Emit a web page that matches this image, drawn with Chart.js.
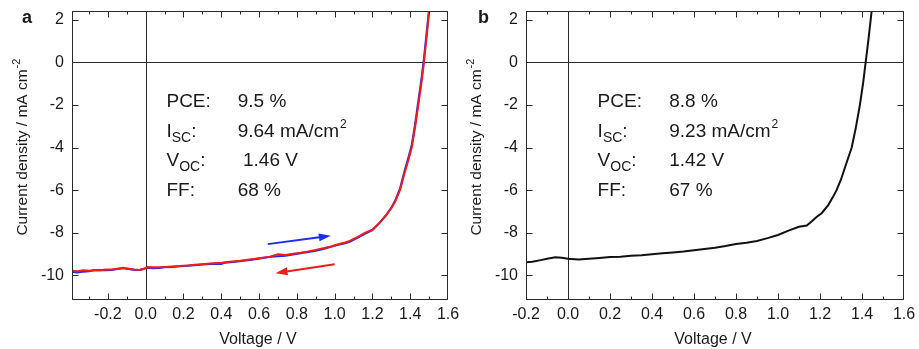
<!DOCTYPE html>
<html>
<head>
<meta charset="utf-8">
<script src="https://cdn.jsdelivr.net/npm/chart.js@4.4.1/dist/chart.umd.min.js"></script>
<style>
  html, body { margin: 0; padding: 0; background: #fff; }
  #wrap { position: relative; width: 919px; height: 349px; }
  canvas { position: absolute; top: 0; }
</style>
</head>
<body>
<div id="wrap">
  <canvas id="chartA" width="460" height="349" style="left:0"></canvas>
  <canvas id="chartB" width="459" height="349" style="left:460px"></canvas>
</div>
<script>
// panel a: forward (blue) and reverse (red) scans
const voltageA = [-0.39, -0.36, -0.33, -0.3, -0.27, -0.24, -0.21, -0.18, -0.15, -0.12, -0.09, -0.06, -0.03, -0.01,
  0.01, 0.04, 0.07, 0.1, 0.14, 0.18, 0.22, 0.26, 0.3, 0.34, 0.38,
  0.4, 0.42, 0.46, 0.5, 0.54, 0.58, 0.62, 0.66, 0.7, 0.74, 0.78, 0.82, 0.86, 0.9, 0.94, 0.98,
  1.02, 1.05, 1.08, 1.12, 1.16, 1.2, 1.24, 1.27, 1.3, 1.32, 1.346, 1.37, 1.39, 1.408, 1.425, 1.443, 1.46, 1.473, 1.487, 1.501, 1.515];
const forwardA = [-9.84, -9.86, -9.82, -9.80, -9.76, -9.74, -9.76, -9.74, -9.70, -9.66, -9.70, -9.74, -9.73, -9.68,
  -9.64, -9.66, -9.65, -9.62, -9.60, -9.57, -9.55, -9.52, -9.49, -9.46, -9.45,
  -9.46, -9.40, -9.37, -9.33, -9.29, -9.24, -9.18, -9.12, -9.10, -9.08, -9.02, -8.96, -8.90, -8.84, -8.76, -8.66,
  -8.56, -8.50, -8.42, -8.24, -8.05, -7.88, -7.52, -7.2, -6.82, -6.5, -5.92, -5.1, -4.48, -3.88, -2.95, -1.82, -0.75, 0.2, 1.4, 2.6, 3.8];
const reverseA = [-9.78, -9.80, -9.76, -9.78, -9.74, -9.76, -9.72, -9.72, -9.68, -9.64, -9.68, -9.72, -9.74, -9.70,
  -9.60, -9.62, -9.62, -9.60, -9.58, -9.56, -9.53, -9.50, -9.47, -9.44, -9.42,
  -9.41, -9.38, -9.34, -9.31, -9.26, -9.22, -9.17, -9.12, -9.00, -9.04, -8.98, -8.93, -8.87, -8.80, -8.72, -8.64,
  -8.54, -8.47, -8.38, -8.2, -8.0, -7.85, -7.5, -7.2, -6.85, -6.55, -6.0, -5.2, -4.6, -4.0, -3.1, -2.0, -0.95, 0.0, 1.2, 2.4, 3.6];
const arrowFwdA = [[0.646, -8.53], [0.98, -8.14]];
const arrowRevA = [[1.0, -9.47], [0.687, -9.89]];
const statsA = [
  ["PCE", "", ":", "9.5 %", ""],
  ["I", "SC", ":", "9.64 mA/cm", "2"],
  ["V", "OC", ":", " 1.46 V", ""],
  ["FF", "", ":", "68 %", ""]
];

// panel b
const voltageB = [-0.2, -0.17, -0.13, -0.1, -0.06, -0.03,
  0.0, 0.05, 0.1, 0.15, 0.2, 0.25, 0.3, 0.35, 0.4, 0.45, 0.5, 0.55, 0.6, 0.65, 0.7, 0.75, 0.8, 0.85, 0.9, 0.95, 1.0, 1.05, 1.1,
  1.137, 1.16, 1.185, 1.208, 1.24, 1.26, 1.279, 1.3, 1.32, 1.351, 1.37, 1.39, 1.405, 1.4175, 1.43, 1.446, 1.455];
const currentB = [-9.38, -9.36, -9.28, -9.22, -9.15, -9.17,
  -9.22, -9.25, -9.22, -9.18, -9.13, -9.12, -9.07, -9.05, -9.0, -8.96, -8.92, -8.88, -8.82, -8.76, -8.7, -8.62, -8.52, -8.47, -8.38, -8.25, -8.1, -7.9, -7.72,
  -7.66, -7.47, -7.25, -7.08, -6.69, -6.35, -6.0, -5.5, -4.9, -4.0, -3.1, -2.0, -1.0, 0.0, 1.0, 2.4, 3.0];
const statsB = [
  ["PCE", "", ":", "8.8 %", ""],
  ["I", "SC", ":", "9.23 mA/cm", "2"],
  ["V", "OC", ":", "1.42 V", ""],
  ["FF", "", ":", "67 %", ""]
];

const FONT = '"Liberation Sans", Arial, sans-serif';
const TXT = '#1a1a1a';
const AXIS = '#2a2a2a';

function toPoints(xs, ys) {
  return xs.map((v, i) => ({ x: v, y: ys[i] }));
}

function drawArrow(ctx, x, y, arrow, color) {
  const x1 = x.getPixelForValue(arrow[0][0]), y1 = y.getPixelForValue(arrow[0][1]);
  const x2 = x.getPixelForValue(arrow[1][0]), y2 = y.getPixelForValue(arrow[1][1]);
  const ang = Math.atan2(y2 - y1, x2 - x1);
  const head = 12, half = 4;
  ctx.strokeStyle = color;
  ctx.fillStyle = color;
  ctx.lineWidth = 2;
  ctx.beginPath();
  ctx.moveTo(x1, y1);
  ctx.lineTo(x2 - Math.cos(ang) * head * 0.8, y2 - Math.sin(ang) * head * 0.8);
  ctx.stroke();
  ctx.beginPath();
  ctx.moveTo(x2, y2);
  ctx.lineTo(x2 - Math.cos(ang) * head + Math.sin(ang) * half, y2 - Math.sin(ang) * head - Math.cos(ang) * half);
  ctx.lineTo(x2 - Math.cos(ang) * head - Math.sin(ang) * half, y2 - Math.sin(ang) * head + Math.cos(ang) * half);
  ctx.closePath();
  ctx.fill();
}

function panelPlugin(p) {
  return {
    id: 'panel' + p.letter,
    beforeDatasetsDraw(chart) {
      const { ctx, chartArea: a, scales: { x, y } } = chart;
      const x0 = Math.round(x.getPixelForValue(0)) + 0.5;
      const y0 = Math.round(y.getPixelForValue(0)) + 0.5;
      ctx.save();
      ctx.strokeStyle = AXIS;
      ctx.lineWidth = 1;
      ctx.beginPath();
      ctx.moveTo(x0, a.top); ctx.lineTo(x0, a.bottom);
      ctx.moveTo(a.left, y0); ctx.lineTo(a.right, y0);
      ctx.stroke();
      ctx.restore();
    },
    afterDraw(chart) {
      const { ctx, chartArea: a, scales: { x, y } } = chart;
      ctx.save();
      // frame + inward ticks
      ctx.strokeStyle = AXIS;
      ctx.lineWidth = 1;
      const L = Math.round(a.left) + 0.5, R = Math.round(a.right) - 0.5;
      const T = Math.round(a.top) + 0.5, B = Math.round(a.bottom) - 0.5;
      ctx.strokeRect(L, T, R - L, B - T);
      ctx.beginPath();
      x.ticks.forEach(t => {
        const px = Math.min(R, Math.max(L, Math.round(x.getPixelForValue(t.value)) + 0.5));
        const len = t.label ? 6 : 3;
        ctx.moveTo(px, B); ctx.lineTo(px, B - len);
        ctx.moveTo(px, T); ctx.lineTo(px, T + len);
      });
      y.ticks.forEach(t => {
        const py = Math.min(B, Math.max(T, Math.round(y.getPixelForValue(t.value)) + 0.5));
        ctx.moveTo(L, py); ctx.lineTo(L + 6, py);
        ctx.moveTo(R, py); ctx.lineTo(R - 6, py);
      });
      ctx.stroke();

      // arrows
      (p.arrows || []).forEach(ar => drawArrow(ctx, x, y, ar.pts, ar.color));

      // stats block
      ctx.fillStyle = TXT;
      ctx.textAlign = 'left';
      ctx.textBaseline = 'alphabetic';
      const lx = x.getPixelForValue(p.statsCol[0]);
      const vx = x.getPixelForValue(p.statsCol[1]);
      p.stats.forEach((row, i) => {
        const by = a.top + 96 + i * 29.6;
        ctx.font = '19px ' + FONT;
        ctx.fillText(row[0], lx, by);
        let cx = lx + ctx.measureText(row[0]).width;
        if (row[1]) {
          ctx.font = '14px ' + FONT;
          ctx.fillText(row[1], cx, by + 5);
          cx += ctx.measureText(row[1]).width;
        }
        ctx.font = '19px ' + FONT;
        ctx.fillText(row[2], cx, by);
        ctx.fillText(row[3], vx, by);
        if (row[4]) {
          const w = ctx.measureText(row[3]).width;
          ctx.font = '12px ' + FONT;
          ctx.fillText(row[4], vx + w + 1, by - 9);
        }
      });

      // x axis title
      ctx.font = '16px ' + FONT;
      ctx.textAlign = 'center';
      ctx.fillText('Voltage / V', (a.left + a.right) / 2 - 2, a.bottom + 44);

      // y axis title with superscript
      const main = 'Current density / mA cm';
      ctx.font = '15.5px ' + FONT;
      const w1 = ctx.measureText(main).width;
      ctx.save();
      ctx.translate(a.left - 45, (a.top + a.bottom) / 2 - 3);
      ctx.rotate(-Math.PI / 2);
      ctx.textAlign = 'left';
      ctx.fillText(main, -w1 / 2, 0);
      ctx.font = '11px ' + FONT;
      ctx.fillText('-2', w1 / 2 + 1, -7);
      ctx.restore();

      // panel letter
      ctx.font = 'bold 18px ' + FONT;
      ctx.textAlign = 'left';
      ctx.fillText(p.letter, p.letterX, 23);
      ctx.restore();
    }
  };
}

function makePanel(id, p) {
  return new Chart(document.getElementById(id), {
    type: 'scatter',
    data: {
      datasets: p.series.map(s => ({
        data: s.data,
        order: s.order,
        showLine: true,
        borderColor: s.color,
        borderWidth: 2,
        pointRadius: 0,
        tension: 0,
        fill: false
      }))
    },
    options: {
      responsive: false,
      animation: false,
      devicePixelRatio: 1,
      layout: { padding: { left: 0, top: 11, right: p.padRight, bottom: 0 } },
      plugins: { legend: { display: false }, tooltip: { enabled: false } },
      scales: {
        x: {
          type: 'linear',
          min: p.xMin,
          max: 1.6,
          grid: { display: false, drawTicks: false },
          border: { display: false },
          ticks: {
            stepSize: 0.1,
            includeBounds: false,
            autoSkip: false,
            maxRotation: 0,
            padding: 5,
            color: TXT,
            font: { family: FONT, size: 16 },
            callback: v => {
              const r = Math.round(v * 10);
              return r % 2 === 0 ? (r / 10).toFixed(1) : '';
            }
          },
          afterFit: s => { s.height = 49; s.paddingLeft = 0; s.paddingRight = 0; }
        },
        y: {
          min: -11.15,
          max: 2.4,
          grid: { display: false, drawTicks: false },
          border: { display: false },
          ticks: {
            stepSize: 2,
            includeBounds: false,
            padding: 8,
            color: TXT,
            font: { family: FONT, size: 16 }
          },
          afterFit: s => { s.width = p.axisLeft; s.paddingTop = 0; s.paddingBottom = 0; }
        }
      }
    },
    plugins: [panelPlugin(p)]
  });
}

makePanel('chartA', {
  letter: 'a',
  letterX: 22,
  xMin: -0.39,
  axisLeft: 72,
  padRight: 12,
  series: [
    { data: toPoints(voltageA, forwardA), color: '#1c2cf0', order: 1 },
    { data: toPoints(voltageA, reverseA), color: '#f01c1c', order: 0 }
  ],
  arrows: [
    { pts: arrowFwdA, color: '#1c2cf0' },
    { pts: arrowRevA, color: '#f01c1c' }
  ],
  stats: statsA,
  statsCol: [0.11, 0.487]
});

makePanel('chartB', {
  letter: 'b',
  letterX: 18,
  xMin: -0.2,
  axisLeft: 66,
  padRight: 15,
  series: [
    { data: toPoints(voltageB, currentB), color: '#111111', order: 0 }
  ],
  stats: statsB,
  statsCol: [0.141, 0.482]
});
</script>
</body>
</html>
